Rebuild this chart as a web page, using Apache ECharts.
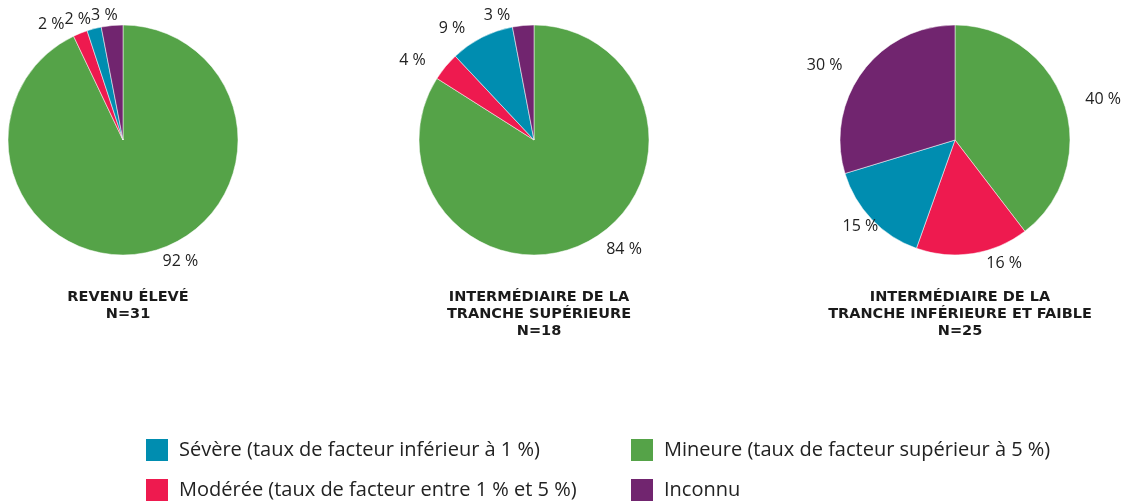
<!DOCTYPE html>
<html><head><meta charset="utf-8">
<script src="https://cdn.jsdelivr.net/npm/echarts@6/dist/echarts.min.js"></script>
<style>html,body{margin:0;padding:0;background:#fff}#c{width:1121px;height:503px}</style>
</head><body><div id="c"></div>
<script>
const categories = ['Mineure (taux de facteur supérieur à 5 %)', 'Modérée (taux de facteur entre 1 % et 5 %)', 'Sévère (taux de facteur inférieur à 1 %)', 'Inconnu'];
const colors = ['#55a348', '#ee1a4f', '#008db0', '#71256f'];
const groupTitles = ['REVENU ÉLEVÉ\nN=31', 'INTERMÉDIAIRE DE LA\nTRANCHE SUPÉRIEURE\nN=18', 'INTERMÉDIAIRE DE LA\nTRANCHE INFÉRIEURE ET FAIBLE\nN=25'];
const highIncome = [92, 2, 2, 3];
const upperMiddle = [84, 4, 9, 3];
const lowerMiddleLow = [40, 16, 15, 30];
const groups = [highIncome, upperMiddle, lowerMiddleLow];
const centersX = [123, 534, 955];
// legend layout: [category index, left, top]
const legendSlots = [[2, 144, 437], [1, 144, 477], [0, 629, 437], [3, 629, 477]];

const font = '"Open Sans", "Noto Sans", sans-serif';
const chart = echarts.init(document.getElementById('c'));
chart.setOption({
  animation: false,
  color: colors,
  title: groupTitles.map((t, i) => ({
    text: t, left: centersX[i], top: 284, textAlign: 'center',
    textStyle: {fontFamily: '"DejaVu Sans", sans-serif', fontWeight: 'bold', fontSize: 14.5, color: '#1a1a1a', lineHeight: 17}
  })),
  legend: legendSlots.map(s => ({
    data: [categories[s[0]]], orient: 'vertical', left: s[1], top: s[2], padding: 0,
    itemWidth: 24, itemHeight: 24, icon: 'rect', selectedMode: false,
    textStyle: {fontFamily: font, fontSize: 20, color: '#222', padding: [0, 0, 0, 5]}
  })),
  series: groups.map((vals, i) => ({
    type: 'pie', center: [centersX[i], 140], radius: 115, startAngle: 90, clockwise: true,
    avoidLabelOverlap: false,
    itemStyle: {borderColor: '#fff', borderWidth: 0.5},
    label: {show: true, position: 'outside', formatter: '{c} %', fontFamily: font, fontSize: 16, color: '#222', overflow: 'none', padding: [0, 3]},
    labelLine: {show: false, length: 10, length2: 4},
    labelLayout: {moveOverlap: 'shiftX'},
    emphasis: {disabled: true},
    data: vals.map((v, k) => ({name: categories[k], value: v}))
  }))
});
</script></body></html>
